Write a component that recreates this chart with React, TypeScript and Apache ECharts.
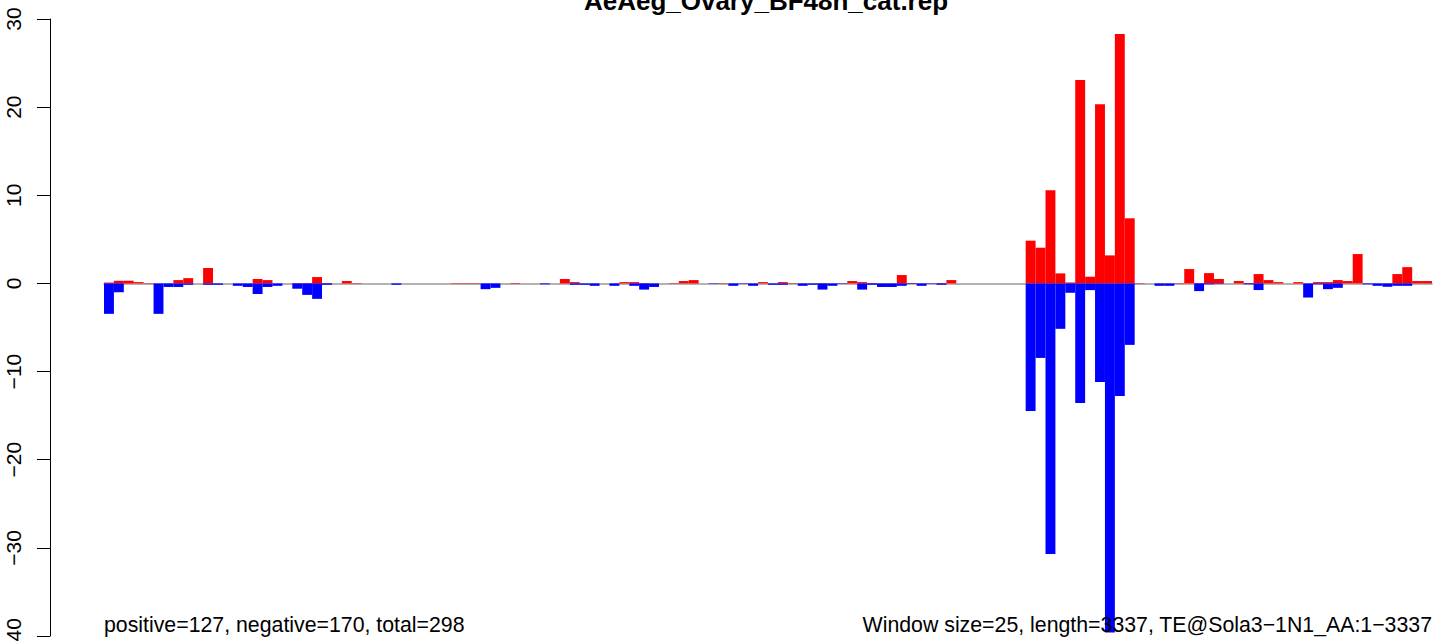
import React, { useEffect, useRef } from "react";
import * as echarts from "echarts";

const titleText = "AeAeg_Ovary_BF48h_cat.rep";
const leftNote = "positive=127, negative=170, total=298";
const rightNote = "Window size=25, length=3337, TE@Sola3\u22121N1_AA:1\u22123337";

// 134 windows of 25 bp
const positive: number[] = [
  0.1, 0.3, 0.3, 0.15, 0.05, 0, 0, 0.38, 0.6, 0,
  1.75, 0, 0, 0, 0, 0.5, 0.38, 0, 0, 0.05,
  0.05, 0.72, 0.05, 0, 0.27, 0.05, 0, 0, 0, 0,
  0, 0, 0, 0, 0, 0.05, 0.05, 0.05, 0, 0,
  0, 0.05, 0, 0, 0, 0, 0.5, 0.15, 0, 0,
  0, 0, 0.15, 0.15, 0.05, 0, 0, 0.05, 0.27, 0.38,
  0, 0, 0.05, 0, 0, 0, 0.15, 0, 0.15, 0.05,
  0, 0, 0.05, 0, 0, 0.27, 0.15, 0.05, 0, 0,
  0.95, 0.05, 0, 0, 0.05, 0.38, 0, 0, 0, 0,
  0, 0, 0, 4.85, 4.05, 10.57, 1.14, 0.11, 23.07, 0.76,
  20.34, 3.18, 28.3, 7.39, 0.05, 0, 0, 0, 0.05, 1.63,
  0.05, 1.17, 0.5, 0, 0.27, 0.05, 1.06, 0.38, 0.15, 0,
  0.15, 0, 0.15, 0.15, 0.38, 0.27, 3.33, 0, 0, 0,
  1.06, 1.85, 0.27, 0.27,
];

const negative: number[] = [
  -3.45, -1.0, 0, 0, 0, -3.45, -0.4, -0.4, -0.15, 0,
  -0.15, -0.15, 0, -0.27, -0.4, -1.2, -0.4, -0.27, 0, -0.6,
  -1.3, -1.75, -0.15, 0, 0, 0, 0, 0, 0, -0.15,
  0, 0, 0, 0, 0, 0, 0, 0, -0.65, -0.5,
  0, 0, 0, 0, -0.1, 0, 0, -0.15, -0.15, -0.27,
  0, -0.27, 0, -0.27, -0.7, -0.4, 0, 0, 0, 0,
  0, -0.05, 0, -0.27, -0.05, -0.27, 0, -0.15, -0.15, 0,
  -0.27, -0.15, -0.7, -0.27, -0.05, 0, -0.7, -0.15, -0.4, -0.4,
  -0.27, -0.05, -0.27, -0.05, -0.15, 0, 0, 0, 0, 0,
  0, 0, 0, -14.47, -8.45, -30.7, -5.15, -1.06, -13.56, -0.76,
  -11.17, -39.6, -12.77, -6.97, 0, 0, -0.27, -0.27, 0, 0,
  -0.87, -0.1, -0.05, 0, 0, -0.1, -0.75, 0, 0, 0,
  0, -1.6, -0.1, -0.65, -0.5, 0, 0, -0.1, -0.27, -0.38,
  -0.27, -0.27, 0, 0,
];

const windows: string[] = positive.map((_, i) => String(i * 25 + 1));

const FONT = '"Liberation Sans", Arial, Helvetica, sans-serif';

export default function App() {
  const ref = useRef<HTMLDivElement>(null);
  useEffect(() => {
    if (!ref.current) return;
    const chart = echarts.init(ref.current, undefined, { renderer: "svg" });
    chart.setOption({
      animation: false,
      backgroundColor: "#ffffff",
      grid: {
        left: 104,
        right: 12,
        top: 19,
        bottom: 5,
        containLabel: false,
        outerBoundsMode: "none",
      },
      xAxis: {
        type: "category",
        data: windows,
        boundaryGap: true,
        axisLine: { show: true, onZero: true, lineStyle: { color: "#9a9a9a", width: 1.5 } },
        axisTick: { show: false },
        axisLabel: { show: false },
        splitLine: { show: false },
      },
      yAxis: {
        type: "value",
        min: -40,
        max: 30,
        interval: 10,
        offset: 54,
        axisLine: { show: true, lineStyle: { color: "#000", width: 1 } },
        axisTick: { show: true, length: 13, lineStyle: { color: "#000", width: 1 } },
        splitLine: { show: false },
        axisLabel: {
          rotate: 90,
          margin: 26,
          fontSize: 21,
          fontFamily: FONT,
          color: "#000",
          hideOverlap: false,
          formatter: (v: number) => String(v).replace("-", "\u2212"),
        },
      },
      series: [
        {
          name: "positive",
          type: "bar",
          data: positive,
          barGap: "-100%",
          barCategoryGap: 0,
          itemStyle: { color: "#ff0000" },
          z: 3,
        },
        {
          name: "negative",
          type: "bar",
          data: negative,
          barGap: "-100%",
          barCategoryGap: 0,
          itemStyle: { color: "#0000ff" },
          z: 3,
        },
      ],
      graphic: [
        {
          type: "text",
          x: 766,
          y: 1,
          style: {
            text: titleText,
            font: `bold 26px ${FONT}`,
            fill: "#000",
            textAlign: "center",
            textVerticalAlign: "middle",
          },
        },
        {
          type: "text",
          x: 104,
          y: 625,
          z: 10,
          style: {
            text: leftNote,
            font: `21.3px ${FONT}`,
            fill: "#000",
            textAlign: "left",
            textVerticalAlign: "middle",
          },
        },
        {
          type: "text",
          x: 1432,
          y: 625,
          z: 10,
          style: {
            text: rightNote,
            font: `21.3px ${FONT}`,
            fill: "#000",
            textAlign: "right",
            textVerticalAlign: "middle",
          },
        },
      ],
    });
    return () => chart.dispose();
  }, []);
  return (
    <div
      ref={ref}
      style={{ position: "fixed", left: 0, top: 0, width: 1444, height: 641, background: "#fff" }}
    />
  );
}
